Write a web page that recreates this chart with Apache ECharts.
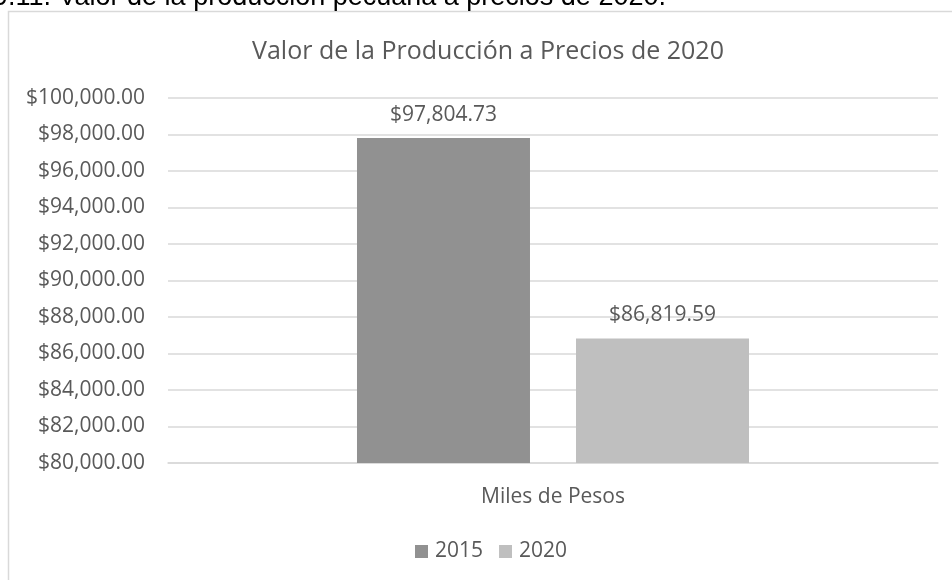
<!DOCTYPE html>
<html>
<head>
<meta charset="utf-8">
<script src="https://cdn.jsdelivr.net/npm/echarts@6/dist/echarts.min.js"></script>
<style>
  html, body { margin: 0; padding: 0; background: #ffffff; }
  #chart { width: 952px; height: 580px; }
</style>
</head>
<body>
<div id="chart"></div>
<script>
// Valores de la producción pecuaria (miles de pesos, precios de 2020)
const categories = ['Miles de Pesos'];
const seriesNames = ['2015', '2020'];
const values2015 = [97804.73];
const values2020 = [86819.59];
const yTicks = { min: 80000, max: 100000, interval: 2000 };

const textColor = '#595959';
const fontFamily = '"Open Sans", sans-serif';

function money(v) {
  return '$' + Number(v).toLocaleString('en-US', { minimumFractionDigits: 2, maximumFractionDigits: 2 });
}

const chart = echarts.init(document.getElementById('chart'), null, { renderer: 'canvas' });

chart.setOption({
  backgroundColor: '#ffffff',
  animation: false,
  title: {
    text: 'Valor de la Producción a Precios de 2020',
    left: 483,
    top: 34,
    textAlign: 'center',
    textStyle: { color: textColor, fontSize: 25, fontWeight: 'normal', fontFamily: fontFamily }
  },
  graphic: [
    {
      type: 'rect',
      left: 6, top: 9,
      shape: { width: 980, height: 620 },
      style: { fill: 'none', stroke: '#d9d9d9', lineWidth: 1.5 },
      silent: true
    },
    {
      type: 'text',
      x: -7, y: -16,
      style: {
        text: '9.11. Valor de la producción pecuaria a precios de 2020.',
        fill: '#000000',
        font: '27px "Liberation Sans", Arial, sans-serif',
        textVerticalAlign: 'top'
      },
      silent: true
    }
  ],
  legend: {
    data: seriesNames,
    top: 536,
    left: 410,
    icon: 'rect',
    itemWidth: 13,
    itemHeight: 13,
    itemGap: 16,
    textStyle: { color: textColor, fontSize: 21, fontFamily: fontFamily, padding: [0, 0, 0, 2] }
  },
  grid: { left: 168, right: 14, top: 98, bottom: 117 },
  xAxis: {
    type: 'category',
    data: categories,
    axisLine: { show: true, lineStyle: { color: '#d9d9d9', width: 1.5 } },
    axisTick: { show: false },
    axisLabel: { color: textColor, fontSize: 21, fontFamily: fontFamily, margin: 24 }
  },
  yAxis: {
    type: 'value',
    min: yTicks.min,
    max: yTicks.max,
    interval: yTicks.interval,
    axisLine: { show: false },
    axisTick: { show: false },
    splitLine: { lineStyle: { color: '#d9d9d9', width: 1.5 } },
    axisLabel: {
      color: textColor, fontSize: 21, fontFamily: fontFamily, margin: 23,
      formatter: money
    }
  },
  series: [
    {
      name: seriesNames[0],
      type: 'bar',
      data: values2015,
      barWidth: 173,
      barGap: '26.6%',
      itemStyle: { color: '#919191' },
      label: {
        show: true, position: 'top', distance: 13,
        color: textColor, fontSize: 21, fontFamily: fontFamily,
        formatter: p => money(p.value)
      }
    },
    {
      name: seriesNames[1],
      type: 'bar',
      data: values2020,
      barWidth: 173,
      barGap: '26.6%',
      itemStyle: { color: '#bfbfbf' },
      label: {
        show: true, position: 'top', distance: 13,
        color: textColor, fontSize: 21, fontFamily: fontFamily,
        formatter: p => money(p.value)
      }
    }
  ]
});
</script>
</body>
</html>
